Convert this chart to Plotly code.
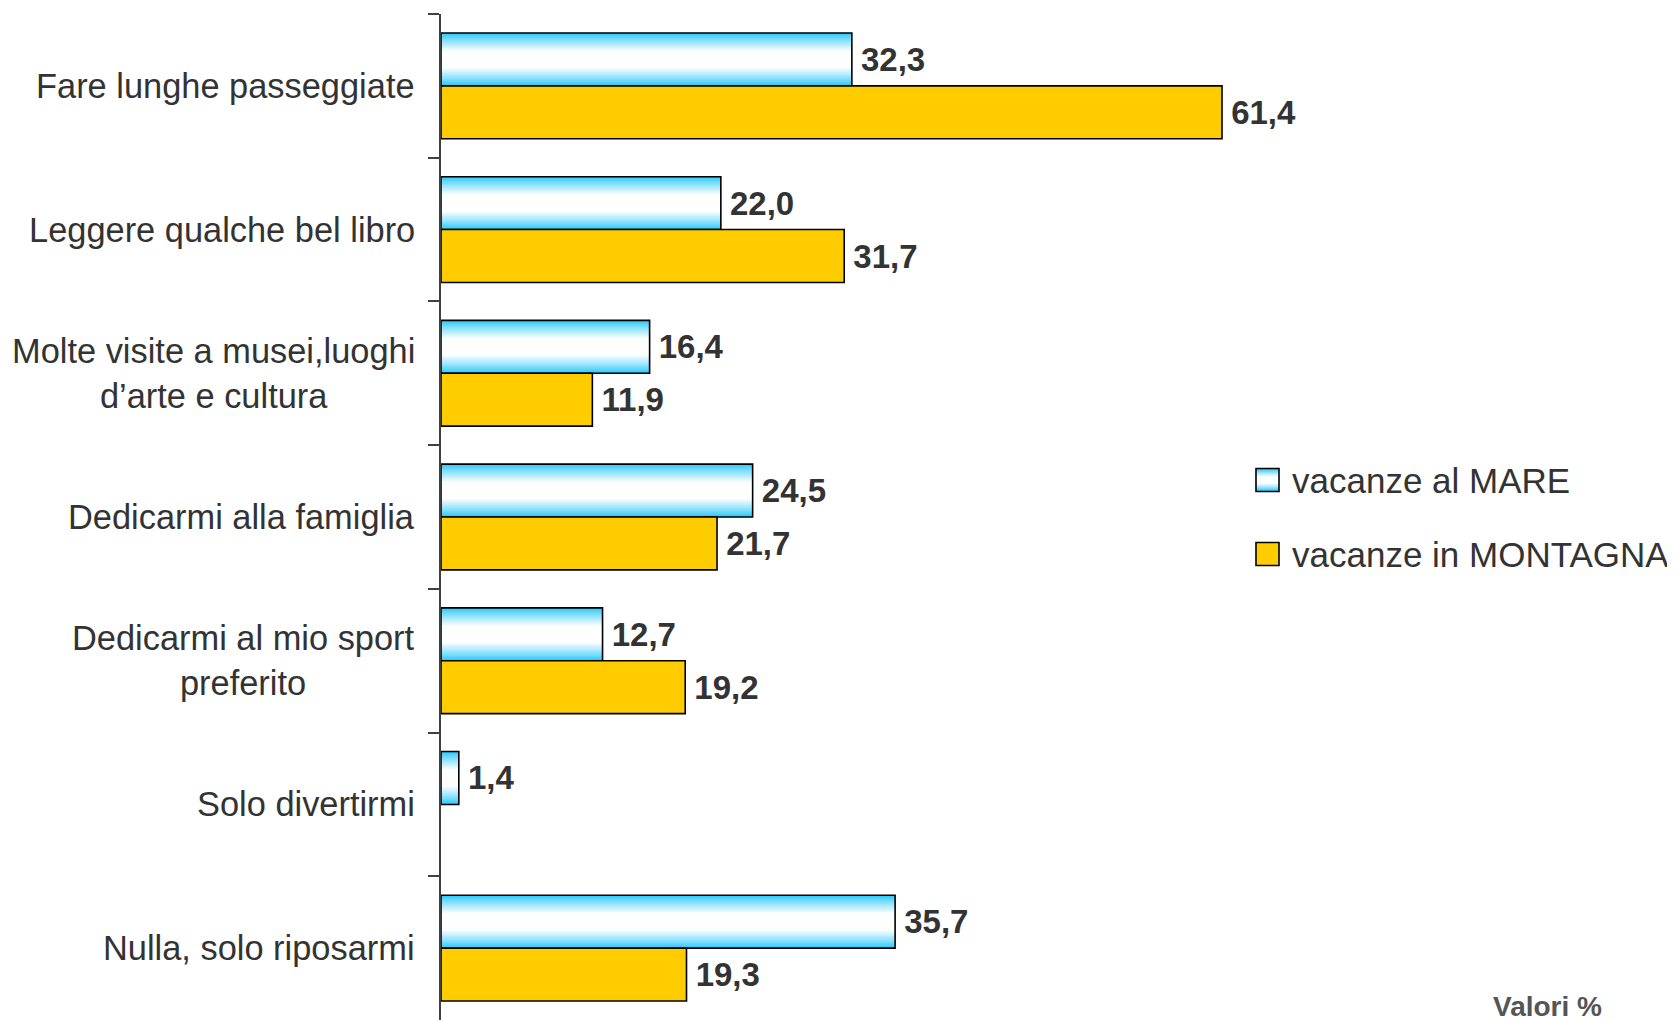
import plotly.graph_objects as go

categories = [
    "Fare lunghe passeggiate",
    "Leggere qualche bel libro",
    "Molte visite a musei,luoghi<br>d’arte e cultura",
    "Dedicarmi alla famiglia",
    "Dedicarmi al mio sport<br>preferito",
    "Solo divertirmi",
    "Nulla, solo riposarmi",
]
mare = [32.3, 22.0, 16.4, 24.5, 12.7, 1.4, 35.7]
montagna = [61.4, 31.7, 11.9, 21.7, 19.2, None, 19.3]
series_names = ["vacanze al MARE", "vacanze in MONTAGNA"]
unit_note = "Valori %"

OFF = 8  # page body margin
W, H = 1675 - OFF, 1020 - OFF
L, R, T, B = 441 - OFF, 13, 14 - OFF, 0
PW, PH = W - L - R, H - T - B

BLUE = (40, 200, 250)
GOLD = "#FFCC00"
TXT = "#333333"
FONT = "Liberation Sans, Arial, sans-serif"
BW = 0.368  # bar thickness in category units


def grad_color(f):
    m = min(1.0, (f / 0.68)) ** 0.85
    r = int(round(BLUE[0] + (255 - BLUE[0]) * m))
    g = int(round(BLUE[1] + (255 - BLUE[1]) * m))
    b = int(round(BLUE[2] + (255 - BLUE[2]) * m))
    return f"rgb({r},{g},{b})"


fig = go.Figure()

N = 22
for k in range(N):
    f = k / N
    w = BW * (1 - f)
    fig.add_trace(go.Bar(
        y=categories, x=mare, orientation="h",
        width=w, offset=-BW / 2 - w / 2,
        marker=dict(color=grad_color(f), line=dict(width=0)),
        showlegend=False, hoverinfo="skip",
    ))

LABEL_FONT = dict(family=FONT, size=33, color=TXT, weight="bold")
LABEL_TMPL = "<span style='font-size:22px'>\u00a0</span>%{x:.1f}"

fig.add_trace(go.Bar(
    y=categories, x=mare, orientation="h", name=series_names[0],
    width=BW, offset=-BW,
    marker=dict(color="rgba(0,0,0,0)", line=dict(color="#000000", width=1.6)),
    text=mare, texttemplate=LABEL_TMPL, textposition="outside",
    textfont=LABEL_FONT, constraintext="none", cliponaxis=False,
    showlegend=False,
))

fig.add_trace(go.Bar(
    y=categories, x=montagna, orientation="h", name=series_names[1],
    width=BW, offset=0,
    marker=dict(color=GOLD, line=dict(color="#000000", width=1.6)),
    text=montagna, texttemplate=LABEL_TMPL, textposition="outside",
    textfont=LABEL_FONT, constraintext="none", cliponaxis=False,
    showlegend=False,
))


def px_x(px):
    return (px - OFF - L) / PW


def px_y(py):
    return 1 - (py - OFF - T) / PH


annotations = []
for c in categories:
    annotations.append(dict(
        x=0, y=c, xref="paper", yref="y", text=c, showarrow=False,
        xanchor="right", yanchor="middle", align="center", xshift=-24,
        font=dict(family=FONT, size=34.4, color=TXT),
    ))

shapes = []
leg_items = [(series_names[0], 480, "grad"), (series_names[1], 554, GOLD)]
for name, cy, col in leg_items:
    x0, x1 = 1256, 1279
    y0, y1 = cy - 11.5, cy + 11.5
    if col == "grad":
        M = 10
        for k in range(M):
            f = k / M
            h = (y1 - y0) * (1 - f)
            shapes.append(dict(type="rect", xref="paper", yref="paper",
                               x0=px_x(x0), x1=px_x(x1),
                               y0=px_y(cy - h / 2), y1=px_y(cy + h / 2),
                               fillcolor=grad_color(f), line=dict(width=0),
                               layer="above"))
        fill = "rgba(0,0,0,0)"
    else:
        fill = col
    shapes.append(dict(type="rect", xref="paper", yref="paper",
                       x0=px_x(x0), x1=px_x(x1), y0=px_y(y0), y1=px_y(y1),
                       fillcolor=fill, line=dict(color="#000000", width=1.6),
                       layer="above"))
    annotations.append(dict(
        x=px_x(1290), y=px_y(cy), xref="paper", yref="paper", text=name,
        showarrow=False, xanchor="left", yanchor="middle",
        font=dict(family=FONT, size=35, color=TXT),
    ))

annotations.append(dict(
    x=px_x(1547), y=px_y(1006), xref="paper", yref="paper", text=unit_note,
    showarrow=False, xanchor="center", yanchor="middle",
    font=dict(family=FONT, size=28, color="#555555", weight="bold"),
))

fig.update_layout(
    width=W, height=H,
    margin=dict(l=L, r=R, t=T, b=B, pad=0),
    paper_bgcolor="white", plot_bgcolor="white",
    barmode="overlay",
    separators=", ",
    showlegend=False,
    annotations=annotations,
    shapes=shapes,
    xaxis=dict(range=[0, PW / 12.72], visible=False, fixedrange=True),
    yaxis=dict(
        type="category", categoryorder="array", categoryarray=categories,
        range=[len(categories) - 0.5, -0.5],
        showticklabels=False, showgrid=False, zeroline=False,
        showline=True, linecolor="#404040", linewidth=2,
        ticks="outside", ticklen=11, tickwidth=2, tickcolor="#404040",
        tickson="boundaries",
    ),
)

fig.write_html("out.html")
